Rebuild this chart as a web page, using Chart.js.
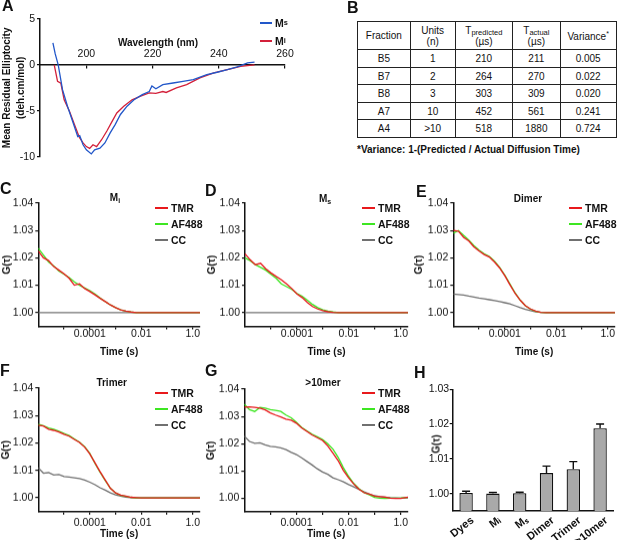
<!DOCTYPE html>
<html>
<head>
<meta charset="utf-8">
<script src="https://cdn.jsdelivr.net/npm/chart.js@4.4.1/dist/chart.umd.min.js"></script>
<style>
  body{margin:0;background:#fff;}
  #fig{position:relative;width:617px;height:540px;overflow:hidden;font-family:"Liberation Sans",Arial,sans-serif;color:#111;}
  .box{position:absolute;}
  .letter{position:absolute;font-weight:bold;font-size:16px;line-height:16px;}
  .ttl{position:absolute;font-weight:bold;font-size:10px;white-space:nowrap;transform:translate(-50%,-50%);}
  .vttl{position:absolute;font-weight:bold;font-size:10px;white-space:nowrap;transform:translate(-50%,-50%) rotate(-90deg);}
  .leg{position:absolute;font-weight:bold;font-size:10.5px;white-space:nowrap;}
  .leg .row{height:16px;display:flex;align-items:center;}
  .leg .sw{width:13px;height:0;border-top:2px solid;margin-right:3px;}
  sub{font-size:70%;vertical-align:-0.3em;line-height:0;}
  #tbl{position:absolute;left:357px;top:21px;width:259px;border-collapse:collapse;table-layout:fixed;font-size:10px;}
  #tbl td{border:1px solid #222;text-align:center;padding:0;height:16.5px;}
  #tbl tr.hd td{height:27.3px;line-height:11px;}
  #tbl sub{font-size:75%;vertical-align:-0.15em;}
  #note{position:absolute;left:357px;top:144px;font-weight:bold;font-size:10px;white-space:nowrap;}
</style>
</head>
<body>
<div id="fig"></div>
<script>
// ---- A: CD spectra ----
const msWave = [189.9,190.6,191.5,192.8,194.3,195.9,197.4,198.0,199.0,200.0,201.5,202.5,204.1,205.6,207.2,208.7,210.3,212.3,214.4,216.9,219.0,219.8,221.0,223.1,226.2,229.2,232.3,236.4,239.5,242.6,245.6,248.7,250.8];
const msVal = [2.4,1.2,0.0,-2.7,-4.5,-6.2,-7.8,-7.7,-8.7,-9.25,-9.7,-9.25,-9.07,-8.5,-7.4,-6.5,-5.4,-4.5,-3.8,-3.24,-2.9,-2.3,-2.6,-2.15,-1.97,-1.79,-1.6,-1.06,-0.8,-0.51,-0.22,0.22,0.3];
const miWave = [190.3,191.3,192.3,193.3,194.9,196.4,197.9,199.0,200.0,201.0,202.0,203.1,204.6,206.2,207.7,209.2,211.3,213.8,216.4,219.0,221.0,223.1,224.1,227.2,230.3,234.3,238.5,242.6,246.6,250.8];
const miVal = [0.0,-1.8,-2.0,-3.8,-5.06,-6.5,-7.9,-8.5,-8.9,-9.1,-8.7,-8.9,-8.15,-7.2,-6.2,-5.24,-4.5,-3.8,-3.4,-3.05,-3.1,-2.9,-3.0,-2.5,-2.15,-1.42,-0.88,-0.51,-0.15,0.0];
const waveTicks = [200,220,240,260];
const ellipTicks = [5,0,-5,-10];

// ---- B: table ----
const tblFraction = ['B5','B7','B8','A7','A4'];
const tblUnits = ['1','2','3','10','>10'];
const tblPred = [210,264,303,452,518];
const tblActual = [211,270,309,561,1880];
const tblVar = ['0.005','0.022','0.020','0.241','0.724'];

// ---- C-G: correlation curves ----
const times = [1e-6,1.58e-6,2.51e-6,3.98e-6,6.31e-6,1e-5,1.58e-5,2.51e-5,3.98e-5,6.31e-5,
  1e-4,1.58e-4,2.51e-4,3.98e-4,6.31e-4,1e-3,1.58e-3,2.51e-3,3.98e-3,6.31e-3,
  0.01,0.0158,0.0251,0.0398,0.0631,0.1,0.158,0.251,0.398,0.631,
  1,1.9];
const timeTicks = [1e-5,1e-4,1e-3,1e-2,1e-1,1];
const timeTickLabels = ['','0.0001','','0.01','','1.0'];
const gTicks = [1.00,1.01,1.02,1.03,1.04];

const cTmr = [1.0225,1.0200,1.0190,1.0168,1.0155,1.0142,1.0125,1.0100,1.0105,1.0088,
  1.0077,1.0065,1.0052,1.0040,1.0028,1.0018,1.0010,1.0005,1.0002,1.0000,
  1.0000,1.0000,1.0000,1.0000,1.0000,1.0000,1.0000,1.0000,1.0000,1.0000,
  1.0000,1.0000];
const cAf = [1.0235,1.0210,1.0185,1.0170,1.0152,1.0140,1.0128,1.0112,1.0100,1.0090,
  1.0080,1.0068,1.0053,1.0040,1.0028,1.0018,1.0010,1.0005,1.0002,1.0000,
  1.0000,1.0000,1.0000,1.0000,1.0000,1.0000,1.0000,1.0000,1.0000,1.0000,
  1.0000,1.0000];
const cCc = [1.0000,1.0000,1.0000,1.0000,1.0000,1.0000,1.0000,1.0000,1.0000,1.0000,
  1.0000,1.0000,1.0000,1.0000,1.0000,1.0000,1.0000,1.0000,1.0000,1.0000,
  1.0000,1.0000,1.0000,1.0000,1.0000,1.0000,1.0000,1.0000,1.0000,1.0000,
  1.0000,1.0000];

const dTmr = [1.0215,1.0193,1.0175,1.0180,1.0160,1.0145,1.0132,1.0120,1.0105,1.0088,
  1.0068,1.0055,1.0037,1.0022,1.0013,1.0007,1.0003,1.0001,1.0000,1.0000,
  1.0000,1.0000,1.0000,1.0000,1.0000,1.0000,1.0000,1.0000,1.0000,1.0000,
  1.0000,1.0000];
const dAf = [1.0200,1.0190,1.0175,1.0165,1.0155,1.0140,1.0125,1.0105,1.0095,1.0085,
  1.0070,1.0060,1.0045,1.0030,1.0018,1.0010,1.0005,1.0002,1.0000,1.0000,
  1.0000,1.0000,1.0000,1.0000,1.0000,1.0000,1.0000,1.0000,1.0000,1.0000,
  1.0000,1.0000];
const dCc = [1.0000,1.0000,1.0000,1.0000,1.0000,1.0000,1.0000,1.0000,1.0000,1.0000,
  1.0000,1.0000,1.0000,1.0000,1.0000,1.0000,1.0000,1.0000,1.0000,1.0000,
  1.0000,1.0000,1.0000,1.0000,1.0000,1.0000,1.0000,1.0000,1.0000,1.0000,
  1.0000,1.0000];

const eTmr = [1.0300,1.0298,1.0275,1.0262,1.0240,1.0225,1.0212,1.0203,1.0185,1.0163,
  1.0135,1.0102,1.0070,1.0045,1.0025,1.0013,1.0005,1.0001,1.0000,1.0000,
  1.0000,1.0000,1.0000,1.0000,1.0000,1.0000,1.0000,1.0000,1.0000,1.0000,
  1.0000,1.0000];
const eAf = [1.0290,1.0300,1.0282,1.0265,1.0245,1.0228,1.0215,1.0205,1.0188,1.0165,
  1.0137,1.0105,1.0072,1.0045,1.0025,1.0012,1.0004,1.0001,1.0000,1.0000,
  1.0000,1.0000,1.0000,1.0000,1.0000,1.0000,1.0000,1.0000,1.0000,1.0000,
  1.0000,1.0000];
const eCc = [1.0068,1.0066,1.0064,1.0060,1.0057,1.0053,1.0050,1.0047,1.0044,1.0040,
  1.0036,1.0032,1.0025,1.0018,1.0012,1.0007,1.0003,1.0001,1.0000,1.0000,
  1.0000,1.0000,1.0000,1.0000,1.0000,1.0000,1.0000,1.0000,1.0000,1.0000,
  1.0000,1.0000];

const fTmr = [1.0265,1.0262,1.0250,1.0246,1.0240,1.0232,1.0225,1.0213,1.0202,1.0185,
  1.0160,1.0128,1.0095,1.0065,1.0035,1.0018,1.0010,1.0006,1.0002,1.0001,
  1.0000,1.0000,1.0000,1.0000,1.0000,1.0000,1.0000,1.0000,1.0000,1.0000,
  1.0000,1.0000];
const fAf = [1.0268,1.0263,1.0255,1.0250,1.0243,1.0235,1.0227,1.0215,1.0203,1.0187,
  1.0162,1.0126,1.0093,1.0063,1.0035,1.0018,1.0009,1.0005,1.0002,1.0000,
  1.0000,1.0000,1.0000,1.0000,1.0000,1.0000,1.0000,1.0000,1.0000,1.0000,
  1.0000,1.0000];
const fCc = [1.0110,1.0090,1.0092,1.0083,1.0085,1.0078,1.0076,1.0073,1.0070,1.0065,
  1.0057,1.0048,1.0037,1.0028,1.0018,1.0011,1.0006,1.0003,1.0001,1.0000,
  1.0000,1.0000,1.0000,1.0000,1.0000,1.0000,1.0000,1.0000,1.0000,1.0000,
  1.0000,1.0000];

const gTmr = [1.0334,1.0335,1.0333,1.0330,1.0324,1.0313,1.0305,1.0298,1.0290,1.0286,
  1.0275,1.0258,1.0245,1.0232,1.0222,1.0212,1.0192,1.0165,1.0138,1.0102,
  1.0075,1.0052,1.0033,1.0020,1.0015,1.0008,1.0006,1.0004,1.0000,0.9999,
  0.9999,1.0004];
const gAf = [1.0345,1.0325,1.0318,1.0333,1.0330,1.0325,1.0322,1.0318,1.0305,1.0295,
  1.0278,1.0260,1.0247,1.0235,1.0225,1.0215,1.0200,1.0180,1.0150,1.0112,
  1.0080,1.0054,1.0035,1.0020,1.0012,1.0003,1.0000,0.9999,1.0000,1.0000,
  1.0001,1.0003];
const gCc = [1.0228,1.0208,1.0201,1.0203,1.0196,1.0190,1.0188,1.0185,1.0178,1.0168,
  1.0160,1.0148,1.0135,1.0122,1.0108,1.0096,1.0088,1.0075,1.0068,1.0060,
  1.0050,1.0042,1.0032,1.0023,1.0015,1.0009,1.0006,1.0004,1.0002,1.0001,
  1.0000,1.0001];

// ---- H: amplitudes ----
const hCats = ['Dyes','M\u1D62','M\u209B','Dimer','Trimer','>10mer'];
const hVals = [1.0002,1.0000,1.0001,1.0059,1.0070,1.0188];
const hErr = [0.0005,0.0003,0.0003,0.0020,0.0022,0.0012];
const hTicks = [1.00,1.01,1.02,1.03];

const RED = '#e8191c', GREEN = '#3ee622', GREY = '#707070', INK = '#111';
const BLUE_A = '#2257c9', RED_A = '#d3203a';

Chart.defaults.font.family = '"Liberation Sans", Arial, sans-serif';
Chart.defaults.color = INK;

const fig = document.getElementById('fig');

function box(left, top, width, height) {
  const d = document.createElement('div');
  d.className = 'box';
  d.style.cssText = `left:${left}px;top:${top}px;width:${width}px;height:${height}px`;
  const c = document.createElement('canvas');
  d.appendChild(c);
  fig.appendChild(d);
  return c;
}
function put(cls, x, y, html) {
  const d = document.createElement('div');
  d.className = cls;
  d.style.left = x + 'px';
  d.style.top = y + 'px';
  d.innerHTML = html;
  fig.appendChild(d);
  return d;
}
function legend(x, yMid, items) {
  const html = items.map(([txt, col]) =>
    `<div class="row"><div class="sw" style="border-color:${col}"></div>${txt}</div>`).join('');
  put('leg', Math.round(x), Math.round(yMid - 8), html);
}

const tickFont = {size: 10.5};
const titleFont = {size: 10, weight: 'bold'};

// A
const cvA = box(0, 0, 300, 170);
new Chart(cvA, {
  type: 'line',
  data: {datasets: [
    {label: 'Ms', data: msWave.map((w, i) => ({x: w, y: msVal[i]})), borderColor: BLUE_A, borderWidth: 1.3, pointRadius: 0, tension: 0},
    {label: 'Mi', data: miWave.map((w, i) => ({x: w, y: miVal[i]})), borderColor: RED_A, borderWidth: 1.3, pointRadius: 0, tension: 0}
  ]},
  options: {
    animation: false, responsive: true, maintainAspectRatio: false,
    layout: {padding: {top: 19, bottom: 13.3, right: 15, left: 0}},
    plugins: {legend: {display: false}, tooltip: {enabled: false}},
    scales: {
      x: {
        type: 'linear', position: {y: 0}, min: 186, max: 260,
        afterBuildTicks: s => { s.ticks = waveTicks.map(v => ({value: v})); },
        ticks: {font: tickFont, padding: -20, color: INK},
        grid: {drawOnChartArea: false, tickLength: 3, color: INK, lineWidth: 1.2},
        border: {color: INK, width: 1.5}
      },
      y: {
        min: -10, max: 5,
        afterBuildTicks: s => { s.ticks = ellipTicks.map(v => ({value: v})); },
        afterFit: s => { s.width = 40; },
        ticks: {font: tickFont, padding: 2, color: INK},
        grid: {drawOnChartArea: false, tickLength: 3, color: INK, lineWidth: 1.2},
        border: {color: INK, width: 1.5},
        title: {display: true, text: ['Mean Residual Elliptocity', '(deh.cm/mol)'], font: {size: 10, weight: 'bold', lineHeight: 1.4}, padding: 0, color: INK}
      }
    }
  }
});
put('ttl', 158, 42, 'Wavelength (nm)');
put('leg', 260, 15, '<div class="row"><div class="sw" style="border-color:' + BLUE_A + ';width:12px"></div>M<sub>s</sub></div>');
put('leg', 260, 33, '<div class="row"><div class="sw" style="border-color:' + RED_A + ';width:12px"></div>M<sub>i</sub></div>');

// B
let rows = '<colgroup><col style="width:52.7px"><col style="width:45px"><col style="width:57.3px"><col style="width:47.7px"><col style="width:56px"></colgroup>';
rows += '<tr class="hd"><td>Fraction</td><td>Units<br>(n)</td><td>T<sub>predicted</sub><br>(\u00B5s)</td><td>T<sub>actual</sub><br>(\u00B5s)</td><td>Variance<sup style="font-size:70%">*</sup></td></tr>';
tblFraction.forEach((f, i) => {
  rows += `<tr><td>${f}</td><td>${tblUnits[i].replace('>', '&gt;')}</td><td>${tblPred[i]}</td><td>${tblActual[i]}</td><td>${tblVar[i]}</td></tr>`;
});
const tbl = document.createElement('table');
tbl.id = 'tbl';
tbl.innerHTML = rows;
fig.appendChild(tbl);
const note = document.createElement('div');
note.id = 'note';
note.textContent = '*Variance: 1-(Predicted / Actual Diffusion Time)';
fig.appendChild(note);

// C-G
function fcsPanel(g, tmr, af, cc) {
  const padR = Math.min(5, 617 - g.right);
  const cv = box(g.left, g.top - 20, g.right + padR - g.left, g.bottom - g.top + 20);
  const sets = [['TMR', tmr, RED], ['AF488', af, GREEN], ['CC', cc, GREY]];
  new Chart(cv, {
    type: 'line',
    data: {datasets: sets.map(([label, vals, color]) => ({
      label, data: times.map((t, i) => ({x: t, y: vals[i]})),
      borderColor: color, borderWidth: 1.3, pointRadius: 0, tension: 0, fill: false
    }))},
    options: {
      animation: false, responsive: true, maintainAspectRatio: false,
      layout: {padding: {top: 20, right: padR, left: 0, bottom: 0}},
      plugins: {legend: {display: false}, tooltip: {enabled: false}},
      scales: {
        x: {
          type: 'logarithmic', min: 1e-6, max: 1.9,
          afterBuildTicks: s => { s.ticks = timeTicks.map(v => ({value: v})); },
          afterFit: s => { s.height = g.bottom - g.axisY; },
          ticks: {callback: (v, i) => timeTickLabels[i], font: tickFont, color: INK, padding: g.lblPad, autoSkip: false, maxRotation: 0, minRotation: 0},
          grid: {drawOnChartArea: false, tickLength: 3, color: INK, lineWidth: 1.2},
          border: {color: INK, width: 1.5},
          title: {display: true, text: 'Time (s)', font: titleFont, color: INK, padding: 0}
        },
        y: {
          min: 0.995, max: 1.04,
          afterBuildTicks: s => { s.ticks = gTicks.map(v => ({value: v})); },
          afterFit: s => { s.width = g.axisX - g.left; },
          ticks: {callback: v => v.toFixed(2), font: tickFont, color: INK, padding: 2},
          grid: {drawOnChartArea: false, tickLength: 3, color: INK, lineWidth: 1.2},
          border: {color: INK, width: 1.5},
          title: {display: true, text: 'G(\u03C4)', font: titleFont, color: INK, padding: {top: g.ttlPad, bottom: 0}}
        }
      }
    }
  });
  put('ttl', g.tx, g.ty, g.title);
  legend(g.lx, g.ly, [['TMR', RED], ['AF488', GREEN], ['CC', GREY]]);
}

fcsPanel({left: 0, axisX: 38.3, top: 203.3, axisY: 325.7, right: 200, bottom: 358, lblPad: -2, ttlPad: 1,
  title: 'M<sub>i</sub>', tx: 115, ty: 197, lx: 155, ly: 208}, cTmr, cAf, cCc);
fcsPanel({left: 205, axisX: 245, top: 203.3, axisY: 325.7, right: 408, bottom: 358, lblPad: -2, ttlPad: 1.7,
  title: 'M<sub>s</sub>', tx: 325, ty: 198, lx: 362, ly: 208}, dTmr, dAf, dCc);
fcsPanel({left: 410, axisX: 453.3, top: 203.3, axisY: 325.7, right: 615, bottom: 358, lblPad: -2, ttlPad: 3.4,
  title: 'Dimer', tx: 528, ty: 198, lx: 569, ly: 208}, eTmr, eAf, eCc);
fcsPanel({left: 0, axisX: 38.3, top: 388.3, axisY: 511, right: 200, bottom: 540, lblPad: 2, ttlPad: 0,
  title: 'Trimer', tx: 111.7, ty: 382, lx: 155, ly: 393}, fTmr, fAf, fCc);
fcsPanel({left: 205, axisX: 244.3, top: 389.3, axisY: 511.3, right: 408, bottom: 540, lblPad: 2, ttlPad: 0,
  title: '&gt;10mer', tx: 323, ty: 382, lx: 362, ly: 393}, gTmr, gAf, gCc);

// H
const errorBars = {
  id: 'errorBars',
  afterDatasetsDraw(chart) {
    const {ctx, scales: {y}} = chart;
    chart.data.datasets.forEach((ds, di) => {
      chart.getDatasetMeta(di).data.forEach((bar, i) => {
        const top = y.getPixelForValue(ds.data[i] + ds.errors[i]);
        ctx.save();
        ctx.strokeStyle = INK;
        ctx.lineWidth = 1.4;
        ctx.beginPath();
        ctx.moveTo(bar.x, bar.y);
        ctx.lineTo(bar.x, top);
        ctx.moveTo(bar.x - 4, top);
        ctx.lineTo(bar.x + 4, top);
        ctx.stroke();
        ctx.restore();
      });
    });
  }
};
const cvH = box(410, 374, 207, 166);
new Chart(cvH, {
  type: 'bar',
  data: {labels: hCats, datasets: [{data: hVals, errors: hErr, backgroundColor: '#a9a9a9', borderColor: INK, borderWidth: 1.3, barPercentage: 0.5, categoryPercentage: 1}]},
  options: {
    animation: false, responsive: true, maintainAspectRatio: false,
    layout: {padding: {top: 15.3, right: 3.5, left: 0, bottom: 0}},
    plugins: {legend: {display: false}, tooltip: {enabled: false}},
    scales: {
      x: {
        afterFit: s => { s.height = 29; },
        ticks: {font: {size: 11, weight: 'bold'}, color: INK, minRotation: 38, maxRotation: 38, padding: -5, labelOffset: 6.5, autoSkip: false},
        grid: {display: false},
        border: {color: INK, width: 1.5}
      },
      y: {
        min: 0.995, max: 1.03,
        afterBuildTicks: s => { s.ticks = hTicks.map(v => ({value: v})); },
        afterFit: s => { s.width = 42.7; },
        ticks: {callback: v => v.toFixed(2), font: tickFont, color: INK, padding: 0.5},
        grid: {drawOnChartArea: false, tickLength: 3, color: INK, lineWidth: 1.2},
        border: {color: INK, width: 1.5}
      }
    }
  },
  plugins: [errorBars]
});
put('vttl', 436, 444, 'G(\u03C4)');

// panel letters
[['A', 2, -2], ['B', 347, 0], ['C', 0, 181], ['D', 205, 183], ['E', 416, 184],
 ['F', 0, 363], ['G', 205, 363], ['H', 414, 365]].forEach(([t, x, y]) => put('letter', x, y, t));
</script>
</body>
</html>
